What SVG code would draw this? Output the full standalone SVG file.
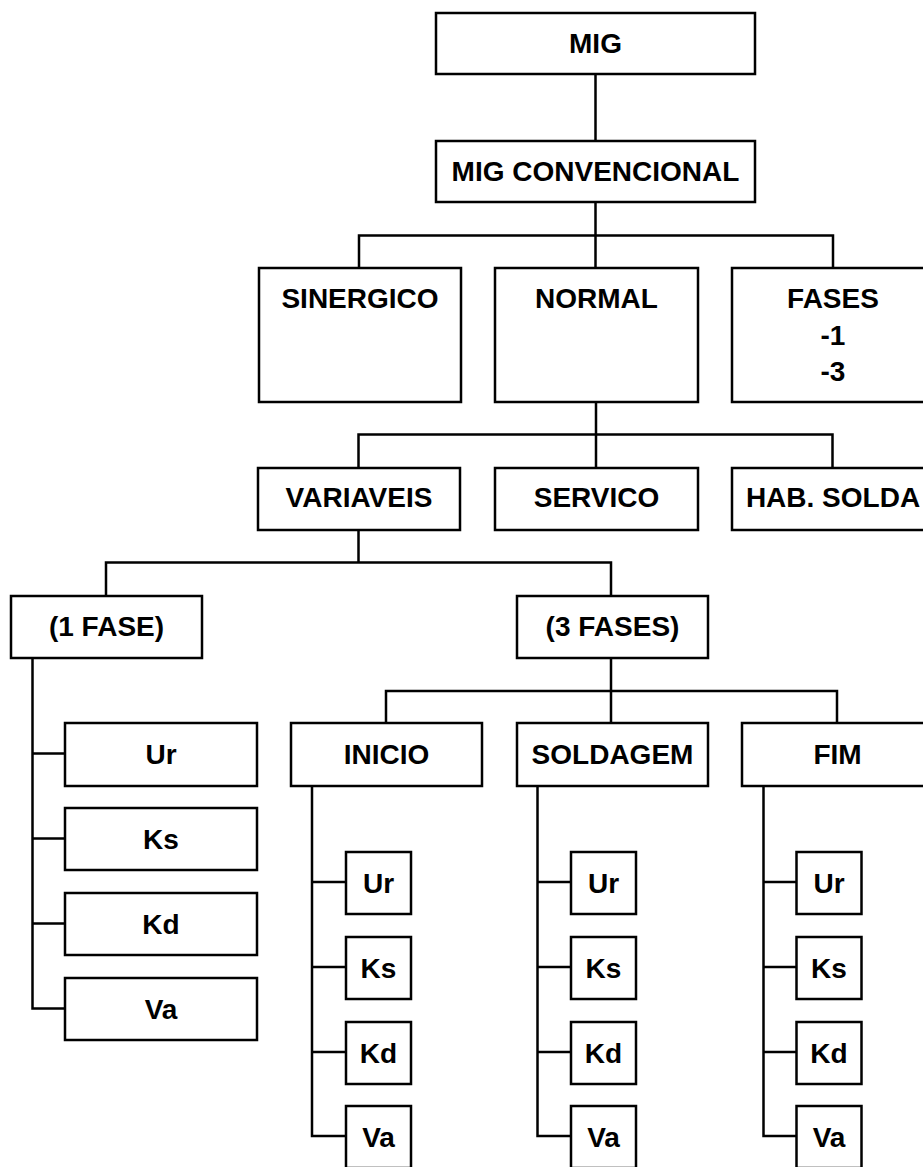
<svg xmlns="http://www.w3.org/2000/svg" width="923" height="1167" viewBox="0 0 923 1167">
<style>
rect{fill:#fff;stroke:#000;stroke-width:2.5}
path{fill:none;stroke:#000;stroke-width:2.5}
text{font-family:"Liberation Sans",Arial,sans-serif;font-weight:bold;font-size:28px;text-anchor:middle;fill:#000}
</style>
<rect x="0" y="0" width="923" height="1167" style="stroke:none"/>
<g id="connectors">
<path d="M595.5 74V141M595.5 202V268M359 268V235.5H833V268"/>
<path d="M596 402V468M358.5 468V434.5H832.5V468"/>
<path d="M358.5 530V562.5M106 596V562.5H611V596"/>
<path d="M611 658V723M386 723V691H837V723"/>
<path d="M32.5 658V1008.5H65M32.5 753.5H65M32.5 838.5H65M32.5 923.5H65"/>
<path d="M312 786V1136H346M312 882H346M312 967H346M312 1052H346"/>
<path d="M537.5 786V1136H571M537.5 882H571M537.5 967H571M537.5 1052H571"/>
<path d="M763.5 786V1136H796.5M763.5 882H796.5M763.5 967H796.5M763.5 1052H796.5"/>
</g>
<g id="mig"><rect x="436" y="13" width="319" height="61"/><text x="595.5" y="53">MIG</text></g>
<g id="mig-conv"><rect x="436" y="141" width="319" height="61"/><text x="595.5" y="181">MIG CONVENCIONAL</text></g>
<g id="sinergico"><rect x="259" y="268" width="202" height="134"/><text x="360" y="308">SINERGICO</text></g>
<g id="normal"><rect x="495" y="268" width="203" height="134"/><text x="596.5" y="308">NORMAL</text></g>
<g id="fases"><rect x="732" y="268" width="202" height="134"/><text x="833" y="308">FASES</text><text x="833" y="345">-1</text><text x="833" y="381">-3</text></g>
<g id="variaveis"><rect x="258" y="468" width="202" height="62"/><text x="359" y="507">VARIAVEIS</text></g>
<g id="servico"><rect x="495" y="468" width="203" height="62"/><text x="596.5" y="507">SERVICO</text></g>
<g id="hab-solda"><rect x="732" y="468" width="202" height="62"/><text x="833" y="507">HAB. SOLDA</text></g>
<g id="fase1"><rect x="11" y="596" width="191" height="62"/><text x="106.5" y="636">(1 FASE)</text></g>
<g id="fases3"><rect x="517" y="596" width="191" height="62"/><text x="612.5" y="636">(3 FASES)</text></g>
<g id="f1-ur"><rect x="65" y="723" width="192" height="63"/><text x="161" y="764">Ur</text></g>
<g id="f1-ks"><rect x="65" y="808" width="192" height="62"/><text x="161" y="849">Ks</text></g>
<g id="f1-kd"><rect x="65" y="893" width="192" height="62"/><text x="161" y="934">Kd</text></g>
<g id="f1-va"><rect x="65" y="978" width="192" height="62"/><text x="161" y="1019">Va</text></g>
<g id="inicio"><rect x="291" y="723" width="191" height="63"/><text x="386.5" y="764">INICIO</text></g>
<g id="soldagem"><rect x="517" y="723" width="191" height="63"/><text x="612.5" y="764">SOLDAGEM</text></g>
<g id="fim"><rect x="742" y="723" width="191" height="63"/><text x="837.5" y="764">FIM</text></g>
<g id="ini-ur"><rect x="346" y="852" width="65" height="62"/><text x="378.5" y="893">Ur</text></g>
<g id="ini-ks"><rect x="346" y="937" width="65" height="62"/><text x="378.5" y="978">Ks</text></g>
<g id="ini-kd"><rect x="346" y="1022" width="65" height="62"/><text x="378.5" y="1063">Kd</text></g>
<g id="ini-va"><rect x="346" y="1106" width="65" height="62"/><text x="378.5" y="1147">Va</text></g>
<g id="sol-ur"><rect x="571" y="852" width="65" height="62"/><text x="603.5" y="893">Ur</text></g>
<g id="sol-ks"><rect x="571" y="937" width="65" height="62"/><text x="603.5" y="978">Ks</text></g>
<g id="sol-kd"><rect x="571" y="1022" width="65" height="62"/><text x="603.5" y="1063">Kd</text></g>
<g id="sol-va"><rect x="571" y="1106" width="65" height="62"/><text x="603.5" y="1147">Va</text></g>
<g id="fim-ur"><rect x="796.5" y="852" width="65" height="62"/><text x="829" y="893">Ur</text></g>
<g id="fim-ks"><rect x="796.5" y="937" width="65" height="62"/><text x="829" y="978">Ks</text></g>
<g id="fim-kd"><rect x="796.5" y="1022" width="65" height="62"/><text x="829" y="1063">Kd</text></g>
<g id="fim-va"><rect x="796.5" y="1106" width="65" height="62"/><text x="829" y="1147">Va</text></g>
</svg>
